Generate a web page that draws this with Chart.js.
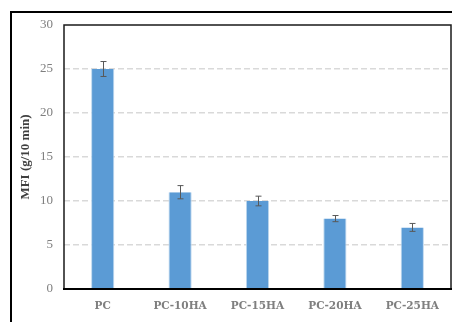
<!DOCTYPE html>
<html>
<head>
    <title>MFI chart</title>
    <style type="text/css">
        body { margin: 0; background: #ffffff; }
        .frame {
            position: absolute; left: 10px; top: 11px;
            width: 500px; height: 400px;
            border: 2px solid #000000;
        }
        .wrap { position: absolute; left: 0; top: 0; width: 452px; height: 322px; }
    </style>
    <script src="https://cdn.jsdelivr.net/npm/chart.js@4/dist/chart.umd.min.js"></script>
</head>
<body>
    <div class="frame"></div>
    <div class="wrap">
        <canvas id="Chart" width="452" height="322"></canvas>
    </div>
    <script>
        // data
        var samples = ['PC', 'PC-10HA', 'PC-15HA', 'PC-20HA', 'PC-25HA'];
        var mfi = [25, 11, 10, 8, 7];
        var mfiErr = [0.85, 0.75, 0.55, 0.35, 0.45];
        var yTicks = [0, 5, 10, 15, 20, 25, 30];

        // error bars + plot frame
        var extras = {
            id: 'extras',
            afterDatasetsDraw: function(chart) {
                var ctx = chart.ctx, x = chart.scales.x, y = chart.scales.y;
                ctx.save();
                ctx.strokeStyle = '#595959';
                ctx.lineWidth = 1;
                mfi.forEach(function(v, i) {
                    var px = Math.round(x.getPixelForValue(i)) + 0.5;
                    var top = y.getPixelForValue(v + mfiErr[i]);
                    var bot = y.getPixelForValue(v - mfiErr[i]);
                    ctx.beginPath();
                    ctx.moveTo(px, top); ctx.lineTo(px, bot);
                    ctx.moveTo(px - 3, top); ctx.lineTo(px + 3, top);
                    ctx.moveTo(px - 3, bot); ctx.lineTo(px + 3, bot);
                    ctx.stroke();
                });
                var a = chart.chartArea;
                ctx.strokeStyle = '#1a1a1a';
                ctx.lineWidth = 1.5;
                ctx.strokeRect(a.left, a.top, a.right - a.left, a.bottom - a.top);
                ctx.strokeStyle = '#000000';
                ctx.lineWidth = 2;
                ctx.beginPath();
                ctx.moveTo(a.left - 1, a.bottom); ctx.lineTo(a.right + 1, a.bottom);
                ctx.stroke();
                ctx.restore();
            }
        };

        var ctx = document.getElementById('Chart').getContext('2d');
        var chart = new Chart(ctx, {
            type: 'bar',
            data: {
                labels: samples,
                datasets: [{
                    label: 'MFI',
                    data: mfi,
                    backgroundColor: '#5B9BD5',
                    borderColor: '#BDD7EE',
                    borderWidth: { left: 1, right: 1, top: 0, bottom: 0 },
                    barPercentage: 0.3,
                    categoryPercentage: 1.0
                }]
            },
            options: {
                responsive: false,
                animation: false,
                layout: { padding: { left: 0, right: 1, top: 25, bottom: 0 } },
                plugins: { legend: { display: false }, tooltip: { enabled: false } },
                scales: {
                    x: {
                        grid: { display: false, drawTicks: false },
                        border: { display: false },
                        ticks: {
                            color: '#7f7f7f',
                            padding: 11,
                            font: { family: 'DejaVu Serif', size: 10.5, weight: 'bold' }
                        },
                        afterFit: function(s) { s.height = 33; }
                    },
                    y: {
                        min: 0,
                        max: 30,
                        afterBuildTicks: function(s) {
                            s.ticks = yTicks.map(function(v) { return { value: v }; });
                        },
                        grid: {
                            color: function(c) {
                                return (c.tick.value === 0 || c.tick.value === 30) ? 'rgba(0,0,0,0)' : '#d9d9d9';
                            },
                            lineWidth: 1.5,
                            drawTicks: false
                        },
                        border: { display: false, dash: [6, 3] },
                        ticks: {
                            color: '#7f7f7f',
                            padding: 11,
                            font: { family: 'Liberation Serif', size: 13 }
                        },
                        title: {
                            display: true,
                            text: 'MFI (g/10 min)',
                            color: '#404040',
                            padding: { top: 18, bottom: 0 },
                            font: { family: 'Liberation Serif', size: 13, weight: 'bold' }
                        },
                        afterFit: function(s) { s.width = 64; }
                    }
                }
            },
            plugins: [extras]
        });
    </script>
</body>
</html>
